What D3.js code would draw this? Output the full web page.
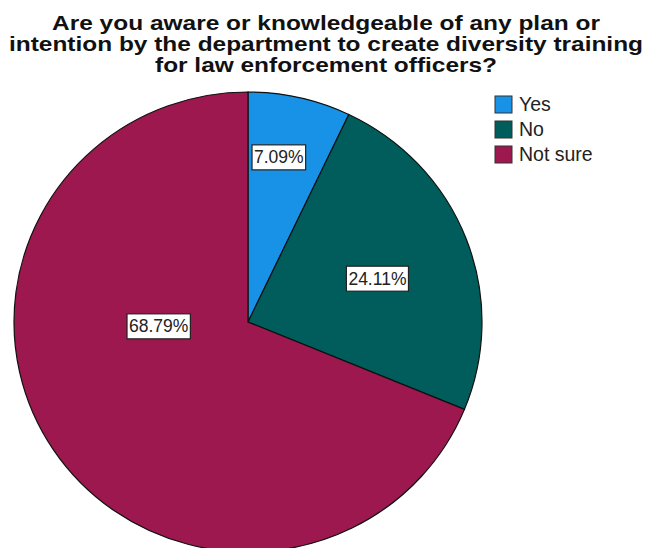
<!DOCTYPE html>
<html>
<head>
<meta charset="utf-8">
<script src="https://cdn.jsdelivr.net/npm/d3@7"></script>
<style>
  html, body { margin: 0; padding: 0; background: #fff; }
  svg { display: block; }
</style>
</head>
<body>
<div id="chart"></div>
<script>
// Survey answers and their shares (percent of respondents)
const categories = ["Yes", "No", "Not sure"];
const percents = [7.09, 24.11, 68.79];
const sliceColors = ["#1792e6", "#015d5b", "#9c184f"];
const titleLines = [
  "Are you aware or knowledgeable of any plan or",
  "intention by the department to create diversity training",
  "for law enforcement officers?"
];
const titleWidths = [548, 634, 342];

const W = 652, H = 548;
const cx = 248, cy = 322, rx = 234, ry = 230;

const svg = d3.select("#chart").append("svg")
  .attr("width", W).attr("height", H)
  .style("font-family", "'Liberation Sans', Arial, sans-serif");

// Title, each line stretched to its set width
const title = svg.append("g")
  .attr("font-weight", "bold")
  .attr("font-size", 21)
  .attr("fill", "#111");
titleLines.forEach((line, i) => {
  title.append("text")
    .attr("x", 326 - titleWidths[i] / 2)
    .attr("y", 29.5 + i * 21.3)
    .attr("textLength", titleWidths[i])
    .attr("lengthAdjust", "spacingAndGlyphs")
    .text(line);
});

// Pie, starting at 12 o'clock and running clockwise
const data = categories.map((c, i) => ({ cat: c, value: percents[i], color: sliceColors[i] }));
const pie = d3.pie().value(d => d.value).sort(null);
const arcs = pie(data);
const arc = d3.arc().innerRadius(0).outerRadius(rx);

const pieG = svg.append("g")
  .attr("transform", `translate(${cx},${cy}) scale(1,${ry / rx})`);

pieG.selectAll("path.slice")
  .data(arcs)
  .join("path")
  .attr("class", "slice")
  .attr("d", arc)
  .attr("fill", d => d.data.color)
  .attr("stroke", "#111")
  .attr("stroke-width", 1.2)
  .attr("vector-effect", "non-scaling-stroke");

// Value labels: anchor angle (degrees) and radius fraction per slice
const labelAnchors = [
  { angle: 10.4, frac: 0.73 },
  { angle: 71.0, frac: 0.585 },
  { angle: 267.5, frac: 0.382 }
];
const fmt = d => d3.format(".2f")(d) + "%";

arcs.forEach((a, i) => {
  const an = labelAnchors[i];
  const t = an.angle * Math.PI / 180;
  const lx = cx + Math.sin(t) * rx * an.frac;
  const ly = cy - Math.cos(t) * ry * an.frac;
  const g = svg.append("g").attr("transform", `translate(${lx},${ly})`);
  const rect = g.append("rect");
  const txt = g.append("text")
    .attr("text-anchor", "middle")
    .attr("dy", "0.36em")
    .attr("font-size", 17.5)
    .attr("fill", "#222")
    .text(fmt(a.data.value));
  const bb = txt.node().getBBox();
  rect.attr("x", bb.x - 2).attr("y", -12)
    .attr("width", bb.width + 4).attr("height", 25)
    .attr("fill", "#fff")
    .attr("stroke", "#222")
    .attr("stroke-width", 1.2);
});

// Legend
const legend = svg.append("g").attr("transform", "translate(495,96)");
const items = legend.selectAll("g.item")
  .data(data)
  .join("g")
  .attr("class", "item")
  .attr("transform", (d, i) => `translate(0,${i * 25})`);
items.append("rect")
  .attr("width", 17).attr("height", 17)
  .attr("fill", d => d.color)
  .attr("stroke", "#333")
  .attr("stroke-width", 1);
items.append("text")
  .attr("x", 24).attr("y", 15)
  .attr("font-size", 19.5)
  .attr("fill", "#222")
  .text(d => d.cat);
</script>
</body>
</html>
